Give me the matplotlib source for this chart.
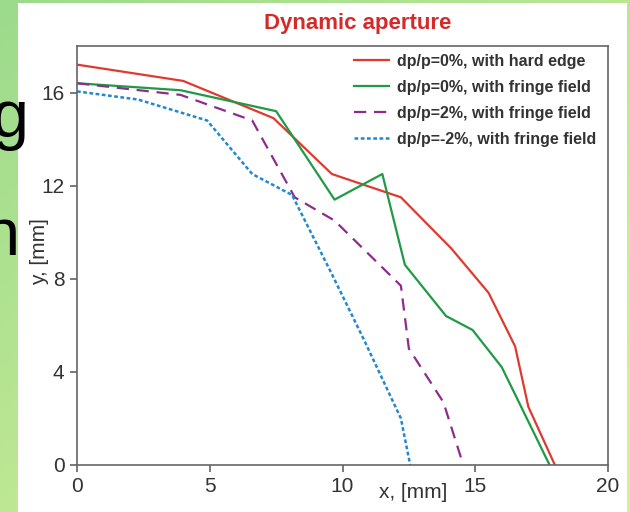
import numpy as np
import matplotlib.pyplot as plt
from matplotlib.patches import Rectangle

plt.rcParams['font.family'] = ['Liberation Sans', 'DejaVu Sans']

# dynamic aperture boundaries, x and y in mm
x_hard = [0, 4.0, 7.4, 9.6, 12.2, 14.1, 15.5, 16.5, 17.0, 18.0]
y_hard = [17.2, 16.5, 14.9, 12.5, 11.5, 9.3, 7.4, 5.1, 2.5, 0]

x_fringe = [0, 3.9, 7.5, 9.7, 11.5, 12.35, 13.9, 14.9, 16.0, 17.8]
y_fringe = [16.4, 16.1, 15.2, 11.4, 12.5, 8.6, 6.4, 5.8, 4.2, 0]

x_plus2 = [0, 3.9, 6.6, 8.2, 9.7, 12.2, 12.5, 13.8, 14.55]
y_plus2 = [16.4, 15.9, 14.8, 11.5, 10.5, 7.7, 5.0, 2.7, 0]

x_minus2 = [0, 2.3, 4.9, 6.6, 8.1, 9.6, 10.8, 12.2, 12.55]
y_minus2 = [16.05, 15.7, 14.8, 12.5, 11.6, 8.2, 5.4, 2.0, 0]

labels = ['dp/p=0%, with hard edge', 'dp/p=0%, with fringe field',
          'dp/p=2%, with fringe field', 'dp/p=-2%, with fringe field']

fig = plt.figure(figsize=(6.3, 5.12), dpi=100)

# slide background: green gradient behind a white panel
bg = fig.add_axes([0, 0, 1, 1], zorder=-10)
gx, gy = np.meshgrid(np.linspace(0, 1, 200), np.linspace(0, 1, 200))
t = np.clip(0.55 * gx + 0.6 * gy, 0, 1)[..., None]
c0 = np.array([156, 219, 140]) / 255
c1 = np.array([212, 240, 152]) / 255
bg.imshow(c0 + (c1 - c0) * t, aspect='auto', extent=[0, 1, 0, 1], origin='upper')
bg.add_patch(Rectangle((18 / 630, 0), (627 - 18) / 630, 509 / 512,
                       facecolor='white', edgecolor='none'))
bg.set_xlim(0, 1)
bg.set_ylim(0, 1)
bg.axis('off')

ax = fig.add_axes([77 / 630, 47 / 512, 531 / 630, 419 / 512])
ax.plot(x_hard, y_hard, color='#e03a2f', lw=1.6, label=labels[0])
ax.plot(x_fringe, y_fringe, color='#1f9a45', lw=1.6, label=labels[1])
ax.plot(x_plus2, y_plus2, color='#8e2c8c', lw=1.6, dashes=(5.5, 3.5), label=labels[2])
ax.plot(x_minus2, y_minus2, color='#2488cc', lw=1.8, dashes=(1.5, 1.0), label=labels[3])

ax.set_xlim(0, 20)
ax.set_ylim(0, 18)
ax.set_xticks([0, 5, 10, 15, 20])
ax.set_yticks([0, 4, 8, 12, 16])
ax.tick_params(direction='out', length=5, width=1.1, colors='#555555',
               labelcolor='#333333', labelsize=15, pad=4)
for s in ax.spines.values():
    s.set_color('#666666')
    s.set_linewidth(1.2)

ax.set_xlabel('x, [mm]', fontsize=15, color='#333333')
ax.xaxis.set_label_coords(0.633, -0.043)
ax.set_ylabel('y, [mm]', fontsize=15, color='#333333')
ax.yaxis.set_label_coords(-0.053, 0.51)

ax.legend(loc='upper left', bbox_to_anchor=(0.495, 1.015), frameon=False,
          prop={'weight': 'bold', 'size': 11.5}, labelcolor='#333333',
          handlelength=2.15, handletextpad=0.55, labelspacing=0.68)

fig.text(358 / 630, 1 - 23 / 512, 'Dynamic aperture', color='#d42a2a',
         fontsize=16, fontweight='bold', ha='center', va='center')

# pieces of slide text sticking out from under the panel
fig.text(28 / 630, 1 - 137 / 512, 'g', fontsize=48, color='black',
         ha='right', va='baseline')
fig.text(20 / 630, 1 - 255 / 512, 'n', fontsize=48, color='black',
         ha='right', va='baseline')

fig.savefig('out.png', dpi=100)
